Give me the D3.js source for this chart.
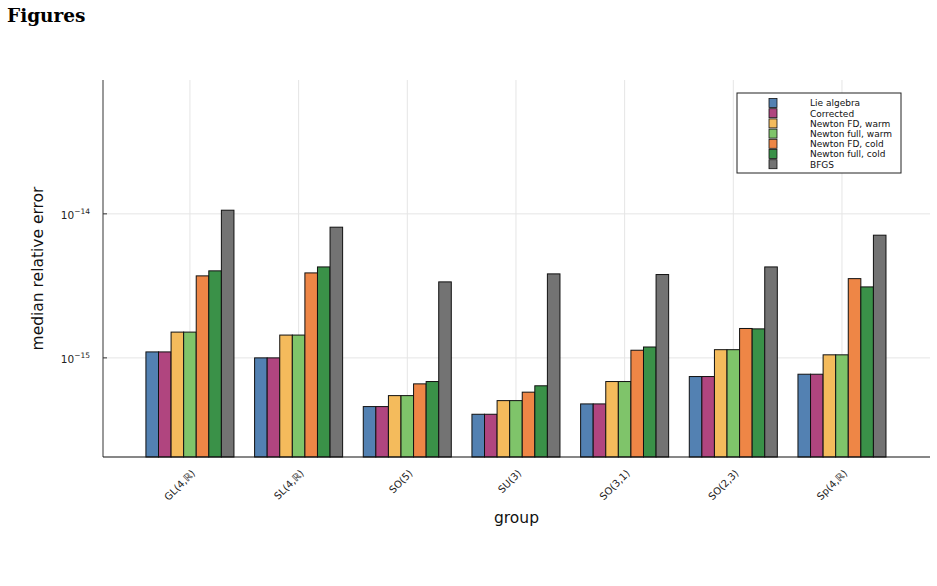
<!DOCTYPE html>
<html>
<head>
<meta charset="utf-8">
<script src="https://cdn.jsdelivr.net/npm/d3@7"></script>
<style>
  body { margin: 0; background: #fff; }
  svg { display: block; }
</style>
</head>
<body>
<svg id="chart" width="937" height="586"></svg>
<script>
// ─── Data ────────────────────────────────────────────────
const groups = ['GL(4,ℝ)', 'SL(4,ℝ)', 'SO(5)', 'SU(3)', 'SO(3,1)', 'SO(2,3)', 'Sp(4,ℝ)'];
const series = ['Lie algebra', 'Corrected', 'Newton FD, warm', 'Newton full, warm', 'Newton FD, cold', 'Newton full, cold', 'BFGS'];
const colors = ['#5381b2', '#b0457f', '#f4bb5c', '#7fc46a', '#ee8646', '#3a9148', '#737373'];

const lieAlgebra     = [1.10e-15, 1.00e-15, 4.59e-16, 4.06e-16, 4.79e-16, 7.42e-16, 7.70e-16];
const corrected      = [1.10e-15, 1.00e-15, 4.59e-16, 4.06e-16, 4.79e-16, 7.42e-16, 7.70e-16];
const newtonFdWarm   = [1.51e-15, 1.44e-15, 5.47e-16, 5.05e-16, 6.85e-16, 1.14e-15, 1.05e-15];
const newtonFullWarm = [1.51e-15, 1.44e-15, 5.47e-16, 5.05e-16, 6.85e-16, 1.14e-15, 1.05e-15];
const newtonFdCold   = [3.71e-15, 3.89e-15, 6.60e-16, 5.78e-16, 1.13e-15, 1.60e-15, 3.55e-15];
const newtonFullCold = [4.02e-15, 4.28e-15, 6.85e-16, 6.40e-16, 1.19e-15, 1.59e-15, 3.11e-15];
const bfgs           = [1.06e-14, 8.08e-15, 3.37e-15, 3.83e-15, 3.79e-15, 4.28e-15, 7.11e-15];
const values = [lieAlgebra, corrected, newtonFdWarm, newtonFullWarm, newtonFdCold, newtonFullCold, bfgs];

const yTicks = [1e-15, 1e-14];
const yTickExp = ['−15', '−14'];

// ─── Layout ──────────────────────────────────────────────
const svg = d3.select('#chart');
const plot = { left: 103, right: 930, top: 80, bottom: 457 };
const sans = 'DejaVu Sans, sans-serif';

const x = d3.scaleLinear().domain([0.2, 7.81]).range([plot.left, plot.right]);
const y = d3.scaleLog().domain([2.05e-16, 8.5e-14]).range([plot.bottom, plot.top]);
const inner = d3.scaleBand().domain(series).range([-0.405, 0.405]);

svg.append('text')
  .attr('x', 7).attr('y', 22)
  .attr('font-family', 'DejaVu Serif, serif')
  .attr('font-weight', 'bold').attr('font-size', 18.5)
  .text('Figures');

// grid
const grid = svg.append('g').attr('stroke', '#e5e5e5').attr('stroke-width', 1);
grid.selectAll('line.v').data(groups).join('line')
  .attr('x1', (d, i) => x(i + 1)).attr('x2', (d, i) => x(i + 1))
  .attr('y1', plot.top).attr('y2', plot.bottom);
grid.selectAll('line.h').data(yTicks).join('line')
  .attr('x1', plot.left).attr('x2', plot.right)
  .attr('y1', d => y(d)).attr('y2', d => y(d));

// bars
const bars = svg.append('g');
series.forEach((s, si) => {
  bars.append('g').selectAll('rect').data(values[si]).join('rect')
    .attr('x', (d, i) => x(i + 1 + inner(s)))
    .attr('width', x(1 + inner.bandwidth()) - x(1))
    .attr('y', d => y(d))
    .attr('height', d => plot.bottom - y(d))
    .attr('fill', colors[si])
    .attr('stroke', '#111').attr('stroke-width', 1);
});

// axes
svg.append('line')
  .attr('x1', plot.left).attr('x2', plot.left)
  .attr('y1', plot.top).attr('y2', plot.bottom)
  .attr('stroke', '#777').attr('stroke-width', 1.5);
svg.append('line')
  .attr('x1', plot.left).attr('x2', plot.right)
  .attr('y1', plot.bottom).attr('y2', plot.bottom)
  .attr('stroke', '#111').attr('stroke-width', 1.2);

const yt = svg.append('g');
yt.selectAll('line').data(yTicks).join('line')
  .attr('x1', plot.left).attr('x2', plot.left + 4)
  .attr('y1', d => y(d)).attr('y2', d => y(d))
  .attr('stroke', '#333');
const ylab = yt.selectAll('text').data(yTicks).join('text')
  .attr('x', 90).attr('y', d => y(d) + 5)
  .attr('text-anchor', 'end')
  .attr('font-family', sans).attr('font-size', 10.5).attr('fill', '#222');
ylab.append('tspan').text('10');
ylab.append('tspan').attr('dy', -5).attr('font-size', 7.5).text((d, i) => yTickExp[i]);

svg.append('g').selectAll('text').data(groups).join('text')
  .attr('transform', (d, i) => `translate(${x(i + 1) + 1},${plot.bottom + 12}) rotate(-45)`)
  .attr('text-anchor', 'end').attr('dy', '0.7em')
  .attr('font-family', sans).attr('font-size', 10).attr('fill', '#222')
  .text(d => d);

svg.append('text')
  .attr('transform', `translate(43,${(plot.top + plot.bottom) / 2}) rotate(-90)`)
  .attr('text-anchor', 'middle')
  .attr('font-family', sans).attr('font-size', 15.5).attr('fill', '#111')
  .text('median relative error');
svg.append('text')
  .attr('x', (plot.left + plot.right) / 2).attr('y', 523)
  .attr('text-anchor', 'middle')
  .attr('font-family', sans).attr('font-size', 15.5).attr('fill', '#111')
  .text('group');

// legend
const legend = svg.append('g').attr('transform', 'translate(737,93)');
legend.append('rect')
  .attr('width', 164).attr('height', 80)
  .attr('fill', '#fff').attr('stroke', '#222').attr('stroke-width', 1);
const item = legend.selectAll('g').data(series).join('g')
  .attr('transform', (d, i) => `translate(0,${10 + i * 10.2})`);
item.append('rect')
  .attr('x', 32).attr('y', -4.5).attr('width', 8).attr('height', 9)
  .attr('fill', (d, i) => colors[i]).attr('stroke', '#111').attr('stroke-width', 0.8);
item.append('text')
  .attr('x', 73).attr('y', 3.3)
  .attr('font-family', sans).attr('font-size', 9).attr('fill', '#111')
  .text(d => d);
</script>
</body>
</html>
